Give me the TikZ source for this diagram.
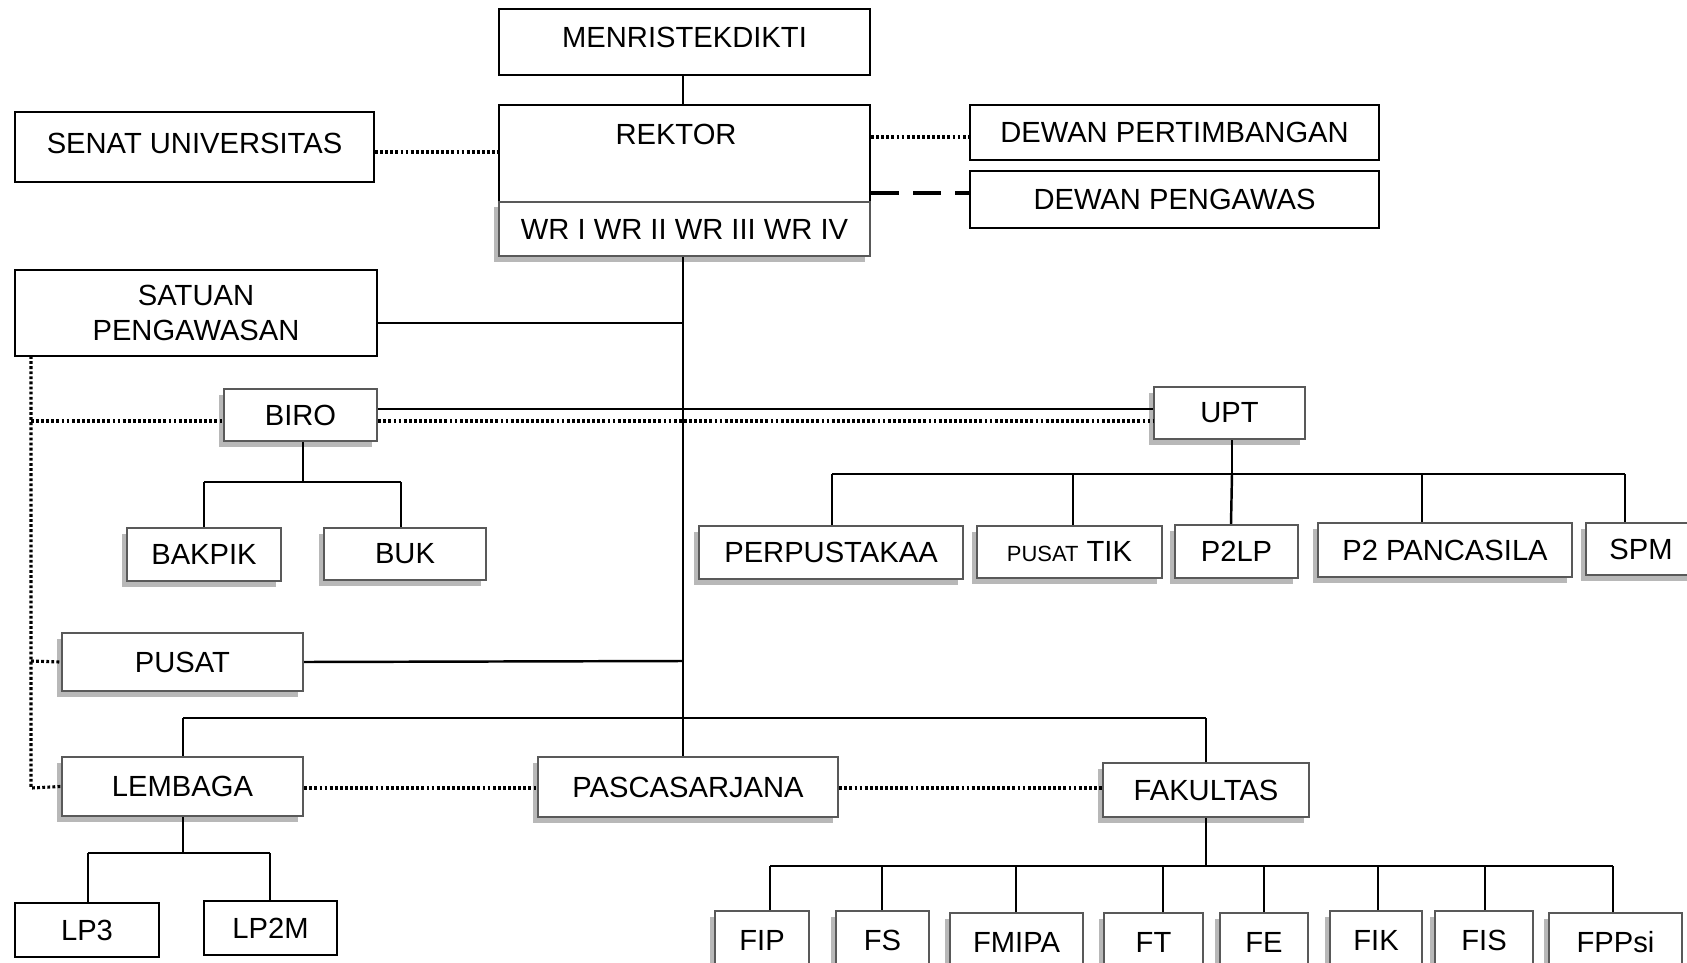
\documentclass[tikz,border=0pt]{standalone}
\usepackage{fontspec}
\setmainfont{Liberation Sans}
\usetikzlibrary{shadows}
\newcommand\mybox[7]{\node[#1, minimum width={(#4-#2)*0.02cm}, minimum height={(#5-#3)*0.02cm}] (#7) at ({(#2+#4)/2},{(#3+#5)/2}) {#6};}
\begin{document}
\begin{tikzpicture}[x=0.02cm,y=-0.02cm,
  base/.style={rectangle, inner sep=0pt, font=\fontsize{16.6}{19.6}\selectfont, align=center},
  plainbox/.style={base, draw=black, line width=1.2pt, fill=white},
  shbox/.style={base, draw=black!65, line width=1.4pt, fill=white,
     drop shadow={shadow xshift=-0.11cm, shadow yshift=-0.11cm, fill=black!28, opacity=1}},
  conn/.style={line width=1.4pt, black},
  dots/.style={line width=1.8pt, black, dash pattern=on 1.6pt off 1.3pt},
  dashes/.style={line width=2pt, black, dash pattern=on 16pt off 8pt}]
\useasboundingbox (0,0) rectangle (1687,963);
\fill[white] (0,0) rectangle (1687,963);
% top
\mybox{plainbox}{499}{9}{870}{75}{\raisebox{5pt}{MENRISTEKDIKTI}}{men}
\mybox{plainbox}{499}{105}{870}{202}{}{rek}
\node[base] (rektxt) at (676,134) {REKTOR};
\mybox{shbox}{499}{202}{870}{256}{WR I WR II WR III WR IV}{wr}
\mybox{plainbox}{15}{112}{374}{182}{\raisebox{4pt}{SENAT UNIVERSITAS}}{senat}
\mybox{plainbox}{970}{105}{1379}{160}{DEWAN PERTIMBANGAN}{dpt}
\mybox{plainbox}{970}{171}{1379}{228}{DEWAN PENGAWAS}{dpg}
\mybox{plainbox}{15}{270}{377}{356}{\raisebox{-1.5pt}{\parbox{6cm}{\centering SATUAN\\PENGAWASAN}}}{sat}
% biro
\mybox{shbox}{224}{389}{377}{441}{BIRO}{biro}
\mybox{shbox}{127}{528}{281}{581}{BAKPIK}{bakpik}
\mybox{shbox}{324}{528}{486}{580}{BUK}{buk}
% upt
\mybox{shbox}{1154}{387}{1305}{439}{UPT}{upt}
\mybox{shbox}{699}{526}{963}{579}{PERPUSTAKAA}{perp}
\mybox{shbox}{977}{526}{1162}{578}{{\fontsize{12.5}{15}\selectfont PUSAT} TIK}{tik}
\mybox{shbox}{1175}{525}{1298}{578}{P2LP}{p2lp}
\mybox{shbox}{1318}{523}{1572}{577}{P2 PANCASILA}{p2p}
\mybox{shbox}{1586}{523}{1696}{575}{SPM}{spm}
% pusat
\mybox{shbox}{62}{633}{303}{691}{PUSAT}{pusat}
% lembaga row
\mybox{shbox}{62}{757}{303}{816}{LEMBAGA}{lem}
\mybox{shbox}{538}{757}{838}{817}{PASCASARJANA}{pasca}
\mybox{shbox}{1103}{763}{1309}{817}{FAKULTAS}{fak}
\mybox{plainbox}{15}{903}{159}{957}{LP3}{lp3}
\mybox{plainbox}{204}{901}{337}{955}{LP2M}{lp2m}
% faculties
\mybox{shbox}{715}{911}{809}{970}{FIP}{fip}
\mybox{shbox}{836}{911}{929}{970}{FS}{fs}
\mybox{shbox}{950}{913}{1083}{972}{FMIPA}{fmipa}
\mybox{shbox}{1104}{913}{1203}{972}{FT}{ft}
\mybox{shbox}{1220}{913}{1308}{972}{FE}{fe}
\mybox{shbox}{1330}{911}{1422}{970}{FIK}{fik}
\mybox{shbox}{1435}{911}{1533}{970}{FIS}{fis}
\mybox{shbox}{1549}{913}{1682}{972}{FPPsi}{fppsi}
% coordinates
\coordinate (tsat) at (683,323);
\coordinate (tpus) at (683,661);
\coordinate (tlem) at (683,718);
\coordinate (lv) at (31,356);
% connectors
\draw[conn] (men.south -| tsat) -- (rek.north -| tsat);
\draw[conn] (wr.south -| tsat) -- (pasca.north -| tsat);
\draw[dots] (senat.east |- 0,152) -- (rek.west |- 0,152);
\draw[dots] (rek.east |- 0,137) -- (dpt.west |- 0,137);
\draw[dashes] (rek.east |- 0,193) -- (dpg.west |- 0,193);
\draw[conn] (sat.east |- tsat) -- (tsat);
\draw[conn] (biro.east |- 0,409) -- (upt.west |- 0,409);
\draw[dots] (biro.east |- 0,421) -- (upt.west |- 0,421);
\draw[conn] (pusat.east) -- (tpus);
% left dotted
\draw[dots] (lv) -- (31,788) -- (lem.west);
\draw[dots] (31,421) -- (biro.west |- 0,421);
\draw[dots] (31,661) -- (pusat.west);
% biro tree
\draw[conn] (biro.south -| 303,0) -- (303,482);
\draw[conn] (204,482) -- (401,482);
\draw[conn] (204,482) -- (bakpik.north -| 204,0);
\draw[conn] (401,482) -- (buk.north -| 401,0);
% upt tree
\draw[conn] (upt.south -| 1232,0) -- (1232,474);
\draw[conn] (832,474) -- (1625,474);
\draw[conn] (832,474) -- (perp.north -| 832,0);
\draw[conn] (1073,474) -- (tik.north -| 1073,0);
\draw[conn] (1232,474) -- (p2lp.north -| 1231,0);
\draw[conn] (1422,474) -- (p2p.north -| 1422,0);
\draw[conn] (1625,474) -- (spm.north -| 1625,0);
% lembaga row
\draw[conn] (183,718) -- (1206,718);
\draw[conn] (183,718) -- (lem.north -| 183,0);
\draw[conn] (1206,718) -- (fak.north -| 1206,0);
\draw[dots] (lem.east |- 0,788) -- (pasca.west |- 0,788);
\draw[dots] (pasca.east |- 0,788) -- (fak.west |- 0,788);
% lembaga tree
\draw[conn] (lem.south -| 183,0) -- (183,853);
\draw[conn] (88,853) -- (270,853);
\draw[conn] (88,853) -- (lp3.north -| 88,0);
\draw[conn] (270,853) -- (lp2m.north -| 270,0);
% fakultas tree
\draw[conn] (fak.south -| 1206,0) -- (1206,866);
\draw[conn] (770,866) -- (1613,866);
\draw[conn] (770,866) -- (fip.north -| 770,0);
\draw[conn] (882,866) -- (fs.north -| 882,0);
\draw[conn] (1016,866) -- (fmipa.north -| 1016,0);
\draw[conn] (1163,866) -- (ft.north -| 1163,0);
\draw[conn] (1264,866) -- (fe.north -| 1264,0);
\draw[conn] (1378,866) -- (fik.north -| 1378,0);
\draw[conn] (1485,866) -- (fis.north -| 1485,0);
\draw[conn] (1613,866) -- (fppsi.north -| 1613,0);
\end{tikzpicture}
\end{document}
